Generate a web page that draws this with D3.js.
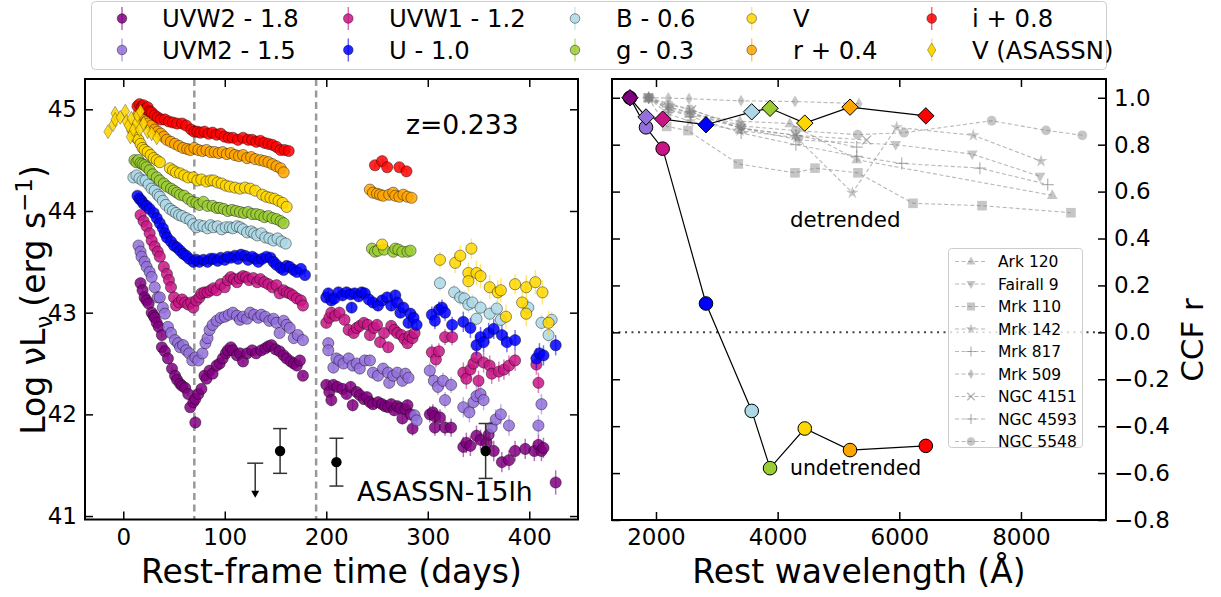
<!DOCTYPE html>
<html><head><meta charset="utf-8">
<script src="https://cdn.jsdelivr.net/npm/d3@7"></script>
<style>body{margin:0;background:#fff} text{font-family:"DejaVu Sans",sans-serif;fill:#000}</style>
</head><body><svg id="c" width="1221" height="597"></svg>
<script>
// ---------------- DATA: light curves [rest-frame day, log nuLnu, err] ----------------
const uvw2 = [[17,43.29],[19,43.22],[21,43.15],[23,43.12],[25,43.09],[28,43.0],[30,42.97],[31,42.95],[33,42.9],[35,42.86],[38,42.78],[38,42.66],[41,42.62],[44,42.55],[48,42.45],[51,42.38],[53,42.34],[56,42.3],[58,42.28],[61,42.26],[64,42.2],[66,42.07],[69,42.12],[71,41.92,0.06],[71,42.15],[74,42.2],[77,42.25],[80,42.38],[82,42.35],[85,42.43],[88,42.4],[92,42.48],[95,42.5],[98,42.55],[101,42.6],[103,42.63],[106,42.66],[108,42.63],[112,42.58],[115,42.6],[118,42.52],[122,42.6],[127,42.63],[131,42.6],[136,42.63],[140,42.65],[143,42.67],[146,42.68],[150,42.64],[154,42.62],[158,42.58],[161,42.55],[165,42.52],[168,42.5],[171,42.48],[174,42.53],[177,42.38],
 [200,42.29,.05],[203,42.22,.05],[205,42.14,.06],[207,42.29,.05],[211,42.27,.05],[216,42.25,.05],[220,42.2,.05],[224,42.27,.05],[226,42.09,.06],[230,42.22,.05],[233,42.19,.05],[237,42.15,.05],[240,42.17,.05],[243,42.12,.05],[246,42.1,.05],[251,42.12,.05],[255,42.1,.05],[258,42.08,.05],[261,42.07,.05],[264,42.1,.05],[267,42.04,.05],[270,42.08,.05],[273,42.06,.05],[275,41.96,.06],[278,42.05,.05],[280,42.09,.05],[283,42.0,.06],[285,41.86,.07],
 [302,42.0,.08],[305,42.02,.08],[307,41.98,.08],[307,41.87,.08],[312,41.97,.08],[317,41.87,.08],[323,41.87,.09],[335,41.68,.1],[338,41.72,.1],[342,41.69,.1],[348,41.79,.1],[352,41.75,.1],[358,41.72,.1],[360,41.8,.1],[365,41.64,.1],[373,41.53,.1],[380,41.55,.1],[386,41.64,.1],[396,41.66,.1],[405,41.64,.1],[409,41.7,.1],[412,41.64,.1],[414,41.67,.1],[426,41.33,.12]];
const uvm2 = [[15,43.66],[17,43.6],[18,43.55],[21,43.5],[23,43.45],[26,43.4],[28,43.35],[31,43.25],[34,43.15],[36,43.15],[39,43.05],[41,42.99],[44,42.86],[47,42.8],[51,42.73],[54,42.7],[56,42.66],[59,42.68],[62,42.63],[65,42.6],[68,42.53],[71,42.56],[74,42.53],[78,42.6],[81,42.7],[83,42.75],[85,42.83],[88,42.88],[92,42.92],[96,42.95],[100,42.96],[104,42.98],[108,43.0],[112,42.97],[115,42.93],[118,42.96],[122,42.94],[125,43.0],[129,42.98],[133,42.95],[136,42.98],[140,42.96],[144,42.92],[148,42.94],[151,42.9],[154,42.8],[158,42.92],[161,42.88],[164,42.85],[168,42.75],[172,42.78],[177,42.73],
 [202,42.7,.05],[202,42.63,.05],[207,42.46,.05],[210,42.55,.05],[213,42.53,.05],[217,42.5,.05],[222,42.55,.05],[226,42.48,.05],[230,42.5,.05],[233,42.45,.05],[238,42.53,.05],[243,42.53,.05],[246,42.41,.05],[251,42.38,.05],[256,42.45,.05],[261,42.41,.05],[262,42.31,.05],[266,42.38,.05],[270,42.41,.05],[275,42.33,.05],[278,42.4,.05],[281,42.36,.05],[287,41.99,.06],[289,41.94,.06],
 [302,42.43,.08],[306,42.33,.08],[310,42.27,.08],[315,42.33,.08],[317,42.14,.08],[323,42.29,.08],[335,42.07,.1],[341,42.02,.1],[345,42.12,.1],[348,42.18,.1],[352,42.2,.1],[355,42.14,.1],[363,41.87,.1],[367,41.95,.1],[372,42.0,.1],[380,41.89,.1],[409,41.89,.1],[412,42.1,.1]];
const uvw1 = [[17,43.96],[20,43.9],[23,43.85],[26,43.78],[28,43.71],[31,43.65],[34,43.6],[36,43.55],[40,43.45],[43,43.38],[45,43.32],[47,43.25],[50,43.15],[52,43.07],[55,43.1],[58,43.13],[61,43.1],[64,43.08],[67,43.1],[69,43.05],[72,43.12],[75,43.15],[77,43.19],[80,43.2],[83,43.2],[86,43.22],[89,43.24],[92,43.22],[96,43.28],[100,43.25],[103,43.32],[106,43.35],[109,43.33],[112,43.3],[115,43.34],[118,43.36],[121,43.35],[124,43.32],[128,43.34],[132,43.3],[135,43.33],[139,43.3],[143,43.28],[147,43.25],[151,43.27],[154,43.19],[158,43.22],[161,43.2],[164,43.19],[167,43.17],[171,43.14],[175,43.12],[177,43.07],
 [200,42.9,.05],[203,42.95,.05],[205,43.0,.05],[209,42.97,.05],[213,43.0,.05],[218,42.93,.05],[222,42.83,.05],[227,42.8,.05],[230,42.85,.05],[233,42.87,.05],[237,42.9,.05],[241,42.88,.05],[243,42.78,.05],[247,42.85,.05],[250,42.88,.05],[253,42.71,.05],[257,42.8,.05],[261,42.66,.05],[264,42.87,.05],[267,42.83,.05],[270,42.8,.05],[274,42.78,.05],[277,42.74,.05],[280,42.7,.05],[282,42.77,.05],[285,42.75,.05],[287,42.8,.05],
 [304,42.61,.08],[308,42.54,.08],[311,42.62,.08],[317,42.76,.08],[324,42.76,.08],[335,42.41,.1],[338,42.35,.1],[342,42.44,.1],[345,42.5,.1],[348,42.56,.1],[350,42.33,.1],[355,42.51,.1],[361,42.48,.1],[363,42.4,.1],[370,42.42,.1],[375,42.44,.1],[380,42.48,.1],[386,42.53,.1],[407,42.49,.1],[409,42.31,.1]];
const uBand = [[14,44.15],[16,44.12],[18,44.1],[20,44.07],[23,44.05],[26,44.02],[30,43.98],[33,43.93],[36,43.88],[39,43.83],[41,43.78],[43,43.74],[47,43.7],[50,43.66],[53,43.64],[56,43.61],[59,43.58],[62,43.56],[65,43.53],[69,43.5],[72,43.52],[75,43.5],[79,43.52],[83,43.5],[86,43.53],[89,43.53],[93,43.51],[96,43.54],[100,43.52],[103,43.55],[106,43.54],[110,43.56],[113,43.53],[116,43.57],[120,43.56],[123,43.52],[127,43.55],[130,43.53],[133,43.5],[137,43.53],[141,43.55],[145,43.54],[148,43.5],[151,43.47],[155,43.44],[158,43.42],[161,43.46],[164,43.45],[168,43.42],[171,43.4],[175,43.43],[179,43.37],
 [200,43.15,.05],[202,43.19,.05],[205,43.12,.05],[208,43.14,.05],[212,43.2,.05],[216,43.17,.05],[220,43.2,.05],[224,43.18,.05],[225,43.05,.05],[228,43.19,.05],[232,43.16,.05],[235,43.2,.05],[238,43.19,.05],[242,43.13,.05],[246,43.1,.05],[251,43.07,.05],[255,43.12,.05],[260,43.15,.05],[264,43.07,.05],[268,43.17,.05],[270,43.1,.05],[273,43.0,.05],[276,43.05,.05],[281,42.9,.05],[283,42.99,.05],[286,42.95,.05],[289,42.88,.05],
 [304,42.98,.08],[307,42.92,.08],[311,43.03,.08],[314,43.05,.08],[317,43.0,.08],[324,42.88,.08],[335,42.91,.1],[342,42.85,.1],[348,42.68,.1],[352,42.76,.1],[355,42.71,.1],[360,42.8,.1],[365,42.84,.1],[373,42.78,.1],[378,42.71,.1],[386,42.73,.1],[407,42.55,.1],[410,42.6,.1],[414,42.58,.1],[426,42.68,.1]];
const bBand = [[10,44.33],[13,44.35],[16,44.32],[19,44.3],[22,44.3],[25,44.26],[28,44.22],[31,44.2],[34,44.16],[36,44.14],[39,44.1],[42,44.06],[46,44.02],[49,44.0],[52,43.98],[55,43.96],[58,43.95],[62,43.93],[66,43.91],[69,43.87],[72,43.84],[75,43.86],[79,43.85],[83,43.83],[86,43.86],[89,43.84],[93,43.85],[97,43.82],[101,43.84],[105,43.84],[108,43.83],[112,43.85],[115,43.84],[118,43.82],[122,43.79],[126,43.8],[129,43.78],[132,43.76],[136,43.78],[140,43.74],[144,43.73],[148,43.71],[152,43.73],[156,43.7],[160,43.68],
 [312,43.29,.08],[326,43.2,.08],[332,43.15,.08],[336,43.14,.08],[340,43.08,.08],[344,43.1,.08],[348,42.94,.08],[352,43.05,.08],[361,42.99,.08],[368,43.04,.08],[372,42.93,.08],[399,43.05,.08],[412,42.9,.08],[419,42.78,.08],[422,42.93,.08]];
const gBand = [[11,44.5],[13,44.48],[15,44.5],[17,44.47],[19,44.46],[21,44.45],[23,44.43],[26,44.4],[29,44.36],[33,44.33],[36,44.3],[40,44.27],[43,44.24],[47,44.22],[50,44.2],[53,44.18],[56,44.16],[60,44.15],[64,44.12],[68,44.09],[72,44.08],[75,44.06],[79,44.09],[83,44.05],[88,44.05],[92,44.03],[95,44.03],[99,44.02],[103,44.0],[107,44.01],[111,44.0],[115,43.99],[119,43.98],[123,43.99],[127,43.97],[131,43.97],[135,43.96],[139,43.94],[143,43.95],[147,43.93],[151,43.92],[155,43.9],[158,43.88],
 [245,43.63],[248,43.6],[251,43.61],[257,43.62],[266,43.6],[268,43.63],[271,43.62],[275,43.6],[280,43.6],[283,43.61]];
const vBand = [[9,44.8],[11,44.75],[13,44.72],[15,44.7],[17,44.66],[19,44.62],[21,44.6],[24,44.58],[27,44.55],[30,44.52],[33,44.5],[36,44.48],[46,44.42],[49,44.4],[52,44.38],[56,44.37],[60,44.35],[64,44.33],[69,44.33],[73,44.3],[77,44.31],[82,44.29],[86,44.3],[89,44.3],[93,44.28],[97,44.27],[101,44.25],[105,44.24],[110,44.23],[115,44.22],[120,44.23],[125,44.22],[130,44.2],[137,44.16],[141,44.14],[145,44.13],[149,44.12],[153,44.1],[157,44.08],[161,44.04],
 [255,43.67,.04],
 [312,43.52,.08],[327,43.49,.1],[332,43.56,.1],[340,43.39,.1],[340,43.31,.1],[343,43.63,.1],[348,43.39,.12],[352,43.36,.12],[361,43.25,.12],[369,43.2,.12],[372,43.22,.12],[377,42.96,.12],[386,43.28,.1],[393,43.1,.12],[397,43.25,.12],[397,42.99,.12],[406,43.3,.12],[413,43.2,.12],[419,42.9,.12]];
const rBand = [[15,44.95],[17,44.92],[19,44.9],[21,44.93],[23,44.88],[25,44.86],[28,44.84],[31,44.8],[34,44.78],[37,44.76],[40,44.73],[43,44.7],[47,44.68],[51,44.66],[55,44.64],[59,44.62],[63,44.61],[66,44.6],[70,44.62],[74,44.6],[78,44.59],[82,44.6],[86,44.58],[90,44.58],[94,44.57],[98,44.58],[102,44.56],[106,44.57],[110,44.55],[114,44.54],[118,44.55],[122,44.52],[126,44.53],[130,44.51],[135,44.5],[139,44.49],[143,44.48],[147,44.46],[151,44.44],[155,44.42],[158,44.38],
 [243,44.21],[246,44.18],[250,44.17],[253,44.16],[256,44.15],[262,44.16],[266,44.18],[268,44.15],[272,44.14],[276,44.16],[280,44.14],[284,44.13]];
const iBand = [[14,45.03],[16,45.05],[18,45.02],[20,45.04],[22,45.0],[24,45.02],[26,44.98],[28,44.97],[31,44.94],[34,44.92],[37,44.9],[41,44.9],[45,44.88],[49,44.87],[53,44.86],[58,44.86],[62,44.84],[67,44.8],[70,44.78],[73,44.78],[76,44.77],[80,44.78],[84,44.76],[88,44.77],[92,44.75],[96,44.76],[100,44.73],[104,44.72],[108,44.72],[113,44.7],[118,44.72],[123,44.7],[127,44.7],[131,44.68],[135,44.69],[139,44.67],[143,44.66],[147,44.65],[151,44.63],[155,44.6],[159,44.6],[163,44.59],
 [248,44.45],[255,44.49],[260,44.43],[272,44.43],[279,44.39]];
const asassnV = [[-15,44.78],[-10,44.85],[-8,44.96],[-8,44.9],[-3,44.92],[2,44.98],[3,44.88],[5,44.84],[7,44.73],[8,44.91],[10,44.8],[13,44.87],[14,44.94],[16,44.8],[17,44.98],[20,44.86],[24,44.78],[28,44.76],[33,44.72]];
// black points: [day, value, err]
const blackPts = [[154.5,41.64,0.22],[210,41.53,0.235],[357,41.64,0.27]];
const blackUpper = [[130,41.52]];
const gapLines = [70, 190];

const legendLabels = ["UVW2 - 1.8","UVM2 - 1.5","UVW1 - 1.2","U - 1.0","B - 0.6","g - 0.3","V","r + 0.4","i + 0.8","V (ASASSN)"];

// ---------------- DATA: CCF panel ----------------
const restWave = [1572,1836,2110,2822,3574,3875,4446,5190,6436];
const ccfUndetrended = [1.0,0.874,0.783,0.123,-0.335,-0.579,-0.41,-0.502,-0.484];
const ccfDetrended = [1.0,0.918,0.909,0.885,0.94,0.955,0.892,0.96,0.923];
const agnNames = ["Ark 120","Fairall 9","Mrk 110","Mrk 142","Mrk 817","Mrk 509","NGC 4151","NGC 4593","NGC 5548"];
const ark120 = [[1880,1.0],[2200,0.95],[2550,0.93],[3380,0.9],[4200,0.89],[5300,0.736],[8515,0.584]];
const fairall9 = [[1880,1.0],[2230,0.96],[2580,0.93],[3400,0.87],[4350,0.82],[5940,0.80],[7200,0.76],[8313,0.665]];
const mrk110 = [[1870,1.0],[2176,0.878],[2526,0.86],[3353,0.718],[4285,0.68],[4614,0.70],[5320,0.68],[6225,0.55],[7360,0.54],[8822,0.51]];
const mrk142 = [[1880,1.0],[2200,0.93],[2560,0.9],[3381,0.86],[4314,0.83],[5228,0.595],[5957,0.874],[7216,0.84],[8330,0.73]];
const mrk817 = [[1880,1.0],[2200,0.95],[2570,0.92],[3400,0.85],[4300,0.80],[5300,0.75],[6040,0.72],[7325,0.70],[8440,0.63]];
const mrk509 = [[1870,1.0],[2203,0.999],[2543,0.996],[3398,0.987],[4285,0.984],[5337,0.975]];
const ngc4151 = [[1880,1.0],[2587,0.949],[3400,0.87],[4300,0.84],[5463,0.82]];
const ngc4593 = [[1880,1.0],[2200,0.96],[2550,0.94],[3400,0.87],[4300,0.84],[5300,0.79]];
const ngc5548 = [[1896,1.0],[2210,0.97],[2560,0.95],[3400,0.88],[4300,0.86],[5316,0.843],[6077,0.851],[7518,0.902],[8412,0.861],[9008,0.84]];

const xTicksL = [0,100,200,300,400];
const yTicksL = [41,42,43,44,45];
const xTicksR = [2000,4000,6000,8000];
const yTicksR = [-0.8,-0.6,-0.4,-0.2,0.0,0.2,0.4,0.6,0.8,1.0];

// ---------------- STYLE / LAYOUT ----------------
const bandColors = ["#800080","#9370DB","#C71585","#0000FF","#ADD8E6","#9ACD32","#FFD700","#FFA500","#FF0000","#FFD700"];
const bandData = [uvw2,uvm2,uvw1,uBand,bBand,gBand,vBand,rBand,iBand];
const agnData = [ark120,fairall9,mrk110,mrk142,mrk817,mrk509,ngc4151,ngc4593,ngc5548];
const agnMarkers = ["tri","tridown","square","star","plus","thind","x","plus1","circle"];
const TICK_FS = 23, LABEL_FS = 33;

const svg = d3.select("#c");
const L = {x0:85,x1:578,y0:79,y1:519.5};
const R = {x0:612,x1:1106,y0:79,y1:520};
const xL = d3.scaleLinear().domain([-37.7,448]).range([L.x0,L.x1]);
const yL = d3.scaleLinear().domain([40.966,45.298]).range([L.y1,L.y0]);
const xR = d3.scaleLinear().domain([1277,9398]).range([R.x0,R.x1]);
const yR = d3.scaleLinear().domain([-0.8,1.08]).range([R.y1,R.y0]);

const defs = svg.append("defs");
defs.append("clipPath").attr("id","clipL").append("rect").attr("x",L.x0).attr("y",L.y0).attr("width",L.x1-L.x0).attr("height",L.y1-L.y0);
defs.append("clipPath").attr("id","clipR").append("rect").attr("x",R.x0).attr("y",R.y0).attr("width",R.x1-R.x0).attr("height",R.y1-R.y0);

function mk(type, s){
  switch(type){
    case "tri": return `M0,${-s}L${s*0.9},${s*0.6}L${-s*0.9},${s*0.6}Z`;
    case "tridown": return `M0,${s}L${s*0.9},${-s*0.6}L${-s*0.9},${-s*0.6}Z`;
    case "square": return `M${-s*0.8},${-s*0.8}h${s*1.6}v${s*1.6}h${-s*1.6}Z`;
    case "star": return d3.symbol(d3.symbolStar, s*s*1.4)();
    case "plus": case "plus1": return `M${-s},0H${s}M0,${-s}V${s}`;
    case "x": return `M${-s*0.75},${-s*0.75}L${s*0.75},${s*0.75}M${-s*0.75},${s*0.75}L${s*0.75},${-s*0.75}`;
    case "thind": return `M0,${-s}L${s*0.6},0L0,${s}L${-s*0.6},0Z`;
    case "diamond": return `M0,${-s}L${s},0L0,${s}L${-s},0Z`;
    default: return d3.symbol(d3.symbolCircle, Math.PI*s*s*0.6)();
  }
}
const strokeOnly = t => (t==="plus"||t==="plus1"||t==="x");

// ---------------- LEFT PANEL ----------------
const gL = svg.append("g");
const gLd = gL.append("g").attr("clip-path","url(#clipL)");
gLd.selectAll("line.gap").data(gapLines).join("line")
  .attr("x1",d=>xL(d)).attr("x2",d=>xL(d)).attr("y1",L.y0).attr("y2",L.y1)
  .attr("stroke","#999").attr("stroke-width",2.5).attr("stroke-dasharray","7,4.5");

bandData.forEach((arr,i)=>{
  const g = gLd.append("g");
  const col = bandColors[i];
  g.selectAll("line").data(arr).join("line")
    .attr("x1",d=>xL(d[0])).attr("x2",d=>xL(d[0]))
    .attr("y1",d=>yL(d[1]+(d[2]||0.02))).attr("y2",d=>yL(d[1]-(d[2]||0.02)))
    .attr("stroke",col).attr("stroke-opacity",0.55).attr("stroke-width",1.5);
  g.selectAll("circle").data(arr).join("circle")
    .attr("cx",d=>xL(d[0])).attr("cy",d=>yL(d[1])).attr("r",5.6)
    .attr("fill",col).attr("fill-opacity",0.85)
    .attr("stroke","#000").attr("stroke-opacity",0.6).attr("stroke-width",0.7);
});
const gA = gLd.append("g");
gA.selectAll("line").data(asassnV).join("line")
  .attr("x1",d=>xL(d[0])).attr("x2",d=>xL(d[0]))
  .attr("y1",d=>yL(d[1]+0.03)).attr("y2",d=>yL(d[1]-0.03))
  .attr("stroke",bandColors[9]).attr("stroke-width",1.2);
gA.selectAll("path").data(asassnV).join("path")
  .attr("transform",d=>`translate(${xL(d[0])},${yL(d[1])})`)
  .attr("d",mk("thind",7)).attr("fill",bandColors[9]).attr("fill-opacity",0.85)
  .attr("stroke","#000").attr("stroke-opacity",0.5).attr("stroke-width",0.6);
const gB = gLd.append("g");
blackPts.forEach(d=>{
  const x=xL(d[0]);
  gB.append("line").attr("x1",x).attr("x2",x).attr("y1",yL(d[1]+d[2])).attr("y2",yL(d[1]-d[2])).attr("stroke","#333").attr("stroke-width",1.5);
  [d[1]+d[2],d[1]-d[2]].forEach(v=>gB.append("line").attr("x1",x-7).attr("x2",x+7).attr("y1",yL(v)).attr("y2",yL(v)).attr("stroke","#333").attr("stroke-width",1.5));
  gB.append("circle").attr("cx",x).attr("cy",yL(d[1])).attr("r",5.2).attr("fill","#000");
});
blackUpper.forEach(d=>{
  const x=xL(d[0]);
  gB.append("line").attr("x1",x-8).attr("x2",x+8).attr("y1",yL(d[1])).attr("y2",yL(d[1])).attr("stroke","#333").attr("stroke-width",1.5);
  gB.append("line").attr("x1",x).attr("x2",x).attr("y1",yL(d[1])).attr("y2",yL(d[1]-0.3)).attr("stroke","#333").attr("stroke-width",1.5);
  const yt=yL(d[1]-0.34);
  gB.append("path").attr("d",`M${x-4},${yt-7}L${x+4},${yt-7}L${x},${yt}Z`).attr("fill","#000");
});

function frameAxes(g, P, xs, ys, xt, yt, yLeftLabels){
  const b = g.append("g").attr("transform",`translate(0,${P.y1})`).call(d3.axisBottom(xs).tickValues(xt).tickSizeInner(-8).tickSizeOuter(0).tickPadding(9).tickFormat(d3.format("d")));
  const t = g.append("g").attr("transform",`translate(0,${P.y0})`).call(d3.axisTop(xs).tickValues(xt).tickSizeInner(-8).tickSizeOuter(0).tickFormat(""));
  const l = g.append("g").attr("transform",`translate(${P.x0},0)`).call(d3.axisLeft(ys).tickValues(yt).tickSizeInner(-8).tickSizeOuter(0).tickPadding(8).tickFormat(yLeftLabels?d3.format("d"):""));
  const r = g.append("g").attr("transform",`translate(${P.x1},0)`).call(d3.axisRight(ys).tickValues(yt).tickSizeInner(-8).tickSizeOuter(0).tickPadding(8).tickFormat(yLeftLabels?"":d3.format(".1f")));
  [b,t,l,r].forEach(a=>{a.select(".domain").remove(); a.selectAll(".tick line").attr("stroke","#000").attr("stroke-width",1.5);
    a.selectAll("text").attr("font-size",TICK_FS).attr("font-family","DejaVu Sans").attr("fill","#000");});
  g.append("rect").attr("x",P.x0).attr("y",P.y0).attr("width",P.x1-P.x0).attr("height",P.y1-P.y0).attr("fill","none").attr("stroke","#000").attr("stroke-width",2);
}
frameAxes(gL, L, xL, yL, xTicksL, yTicksL, true);

gL.append("text").attr("x",406).attr("y",134).attr("font-size",26.7).text("z=0.233");
gL.append("text").attr("x",357).attr("y",501).attr("font-size",26.7).text("ASASSN-15lh");
gL.append("text").attr("x",(L.x0+L.x1)/2).attr("y",583).attr("text-anchor","middle").attr("font-size",LABEL_FS).text("Rest-frame time (days)");
const yl = gL.append("text").attr("transform","translate(45,300) rotate(-90)").attr("text-anchor","middle").attr("font-size",LABEL_FS);
yl.append("tspan").text("Log \u03BDL");
yl.append("tspan").attr("font-size",23).attr("dy",7).text("\u03BD");
yl.append("tspan").attr("dy",-7).attr("dx",9).text("(erg s");
yl.append("tspan").attr("font-size",23).attr("dy",-13).text("\u22121");
yl.append("tspan").attr("dy",13).text(")");

// ---------------- RIGHT PANEL ----------------
const gR = svg.append("g");
const gRd = gR.append("g").attr("clip-path","url(#clipR)");
const line = d3.line().x(d=>xR(d[0])).y(d=>yR(d[1]));
agnData.forEach((arr,i)=>{
  const g=gRd.append("g");
  g.append("path").attr("d",line(arr)).attr("fill","none").attr("stroke","#888").attr("stroke-opacity",0.6).attr("stroke-width",1.1).attr("stroke-dasharray","4,2.5");
  const t=agnMarkers[i];
  g.selectAll("path.m").data(arr).join("path").attr("class","m")
    .attr("transform",d=>`translate(${xR(d[0])},${yR(d[1])})`)
    .attr("d",mk(t,t==="circle"?6.3:6))
    .attr("fill",strokeOnly(t)?"none":"#808080").attr("fill-opacity",0.45)
    .attr("stroke",strokeOnly(t)?"#808080":"none").attr("stroke-opacity",0.6).attr("stroke-width",1.2);
});
gRd.append("line").attr("x1",R.x0).attr("x2",R.x1).attr("y1",yR(0)).attr("y2",yR(0))
  .attr("stroke","#444").attr("stroke-width",2).attr("stroke-dasharray","2,4.5");

const undet = restWave.map((w,i)=>[w,ccfUndetrended[i]]);
const det = restWave.map((w,i)=>[w,ccfDetrended[i]]);
gRd.append("path").attr("d",line(undet)).attr("fill","none").attr("stroke","#000").attr("stroke-width",1.2);
gRd.selectAll("circle.u").data(undet).join("circle").attr("class","u")
  .attr("cx",d=>xR(d[0])).attr("cy",d=>yR(d[1])).attr("r",6.8)
  .attr("fill",(d,i)=>bandColors[i]).attr("stroke","#000").attr("stroke-width",1);
gRd.append("path").attr("d",line(det)).attr("fill","none").attr("stroke","#000").attr("stroke-width",1.2);
gRd.selectAll("path.dd").data(det).join("path").attr("class","dd")
  .attr("transform",d=>`translate(${xR(d[0])},${yR(d[1])})`).attr("d",mk("diamond",8.2))
  .attr("fill",(d,i)=>bandColors[i]).attr("stroke","#000").attr("stroke-width",1);

gR.append("text").attr("x",790).attr("y",227).attr("font-size",21.4).text("detrended");
gR.append("text").attr("x",790).attr("y",475).attr("font-size",20.4).text("undetrended");

const lg = gR.append("g");
lg.append("rect").attr("x",948.5).attr("y",248.5).attr("width",134).attr("height",199).attr("rx",3)
  .attr("fill","#fff").attr("fill-opacity",0.8).attr("stroke","#ccc").attr("stroke-width",1);
agnNames.forEach((n,i)=>{
  const y=261.5+i*22.5;
  lg.append("line").attr("x1",955).attr("x2",987).attr("y1",y).attr("y2",y).attr("stroke","#888").attr("stroke-opacity",0.6).attr("stroke-width",1.1).attr("stroke-dasharray","4,2.5");
  const t=agnMarkers[i];
  lg.append("path").attr("transform",`translate(971,${y})`).attr("d",mk(t,t==="circle"?5.5:5))
    .attr("fill",strokeOnly(t)?"none":"#808080").attr("fill-opacity",0.45)
    .attr("stroke",strokeOnly(t)?"#808080":"none").attr("stroke-opacity",0.6).attr("stroke-width",1.2);
  lg.append("text").attr("x",998).attr("y",y+5.5).attr("font-size",15.5).text(n);
});

frameAxes(gR, R, xR, yR, xTicksR, yTicksR, false);
gR.append("text").attr("x",(R.x0+R.x1)/2).attr("y",583).attr("text-anchor","middle").attr("font-size",LABEL_FS).text("Rest wavelength (\u00C5)");
gR.append("text").attr("transform","translate(1203,340) rotate(-90)").attr("text-anchor","middle").attr("font-size",31).text("CCF r");

// ---------------- TOP LEGEND ----------------
const tl = svg.append("g");
tl.append("rect").attr("x",91.5).attr("y",1.5).attr("width",1015).attr("height",68).attr("rx",4)
  .attr("fill","#fff").attr("stroke","#ccc").attr("stroke-width",1);
const colM = [122,348.3,575,751.7,931.7], colT=[162,389,616,793,972], rowY=[18.5,50];
legendLabels.forEach((lab,i)=>{
  const c=Math.floor(i/2), r=i%2, x=colM[c], y=rowY[r], col=bandColors[i];
  tl.append("line").attr("x1",x).attr("x2",x).attr("y1",y-11.5).attr("y2",y+11.5).attr("stroke",col).attr("stroke-opacity",0.6).attr("stroke-width",1.5);
  if(i===9){
    tl.append("path").attr("transform",`translate(${x},${y})`).attr("d",mk("thind",7)).attr("fill",col).attr("stroke","#000").attr("stroke-opacity",0.5).attr("stroke-width",0.6);
  } else {
    tl.append("circle").attr("cx",x).attr("cy",y).attr("r",4.8).attr("fill",col).attr("fill-opacity",0.85).attr("stroke","#000").attr("stroke-opacity",0.6).attr("stroke-width",0.7);
  }
  tl.append("text").attr("x",colT[c]).attr("y",y+8.7).attr("font-size",24.3).text(lab);
});
</script></body></html>
